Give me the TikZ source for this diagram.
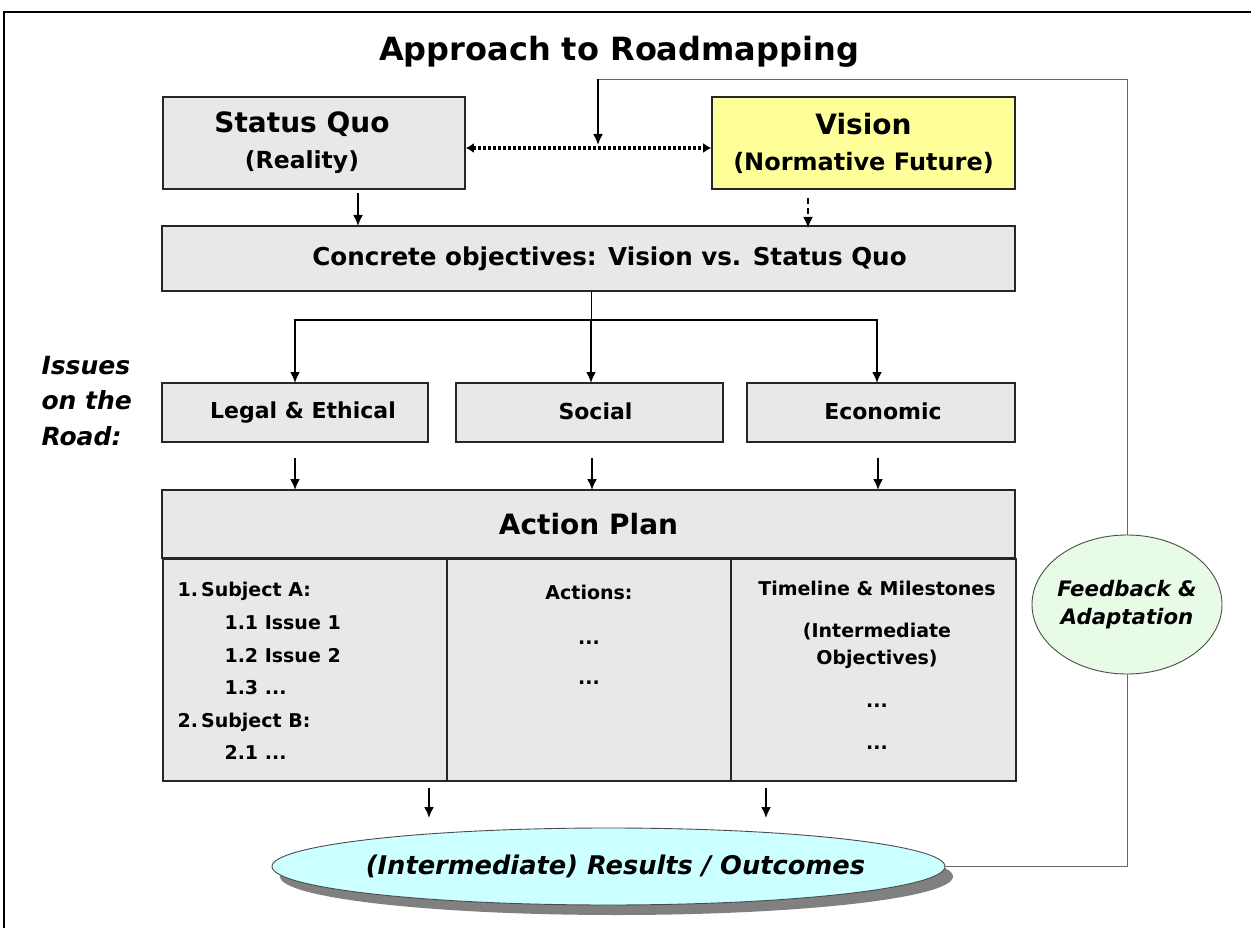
\documentclass[tikz,border=0pt]{standalone}
\usepackage{fontspec}
\setmainfont{DejaVu Sans}
\usetikzlibrary{arrows.meta,shapes.geometric,shadows}
\definecolor{boxgray}{HTML}{E8E8E8}
\definecolor{visyellow}{HTML}{FFFF99}
\definecolor{rescyan}{HTML}{CCFFFF}
\definecolor{fbgreen}{HTML}{E8FBE6}

\begin{document}
\begin{tikzpicture}[x=1pt, y=-1pt,
    box/.style={draw=black!85, fill=boxgray, line width=1.6pt, inner sep=0pt},
    arr/.style={-{Latex[length=11pt,width=10pt]}, line width=2pt},
    fbline/.style={draw=black!60, line width=0.9pt},
    oval/.style={ellipse, draw=black!70, line width=0.9pt, inner sep=0pt},
    big/.style={font=\bfseries\fontsize{28}{36}\selectfont},
    mid/.style={font=\bfseries\fontsize{22}{27}\selectfont},
    small/.style={font=\bfseries\fontsize{19}{32.6}\selectfont}]
	\useasboundingbox (0,0) rectangle (1251,928);
	\fill[white] (0,0) rectangle (1251,928);
	% frame
	\draw[line width=2pt] (4,928) -- (4,12) -- (1251,12);
	\node[font=\bfseries\fontsize{32}{38}\selectfont] (title) at (619,52) {Approach to Roadmapping};

	% status quo and vision
	\node[box, big, minimum width=302, minimum height=92, align=center] (sq) at (314,143)
		{\hspace*{-24pt}Status Quo\\ \fontsize{23.5}{36}\selectfont\hspace*{-24pt}(Reality)};
	\node[box, big, fill=visyellow, minimum width=303, minimum height=92, align=center] (vis) at (863.5,143)
		{Vision\\ \fontsize{24}{36}\selectfont(Normative Future)};
	\draw[{Latex[length=8pt,width=10pt]}-{Latex[length=8pt,width=10pt]}, line width=4pt, dash pattern=on 3pt off 2pt] (sq.east |- 0,148) -- (vis.west |- 0,148);

	% objectives
	\node[box, minimum width=853, minimum height=65, font=\bfseries\fontsize{24.6}{30}\selectfont] (obj) at (588.5,258.5) {\hspace*{42pt}\raisebox{-3pt}{Concrete objectives: Vision vs. Status Quo}};
	\draw[arr] (358,193) -- (358,226);
	\draw[arr, dash pattern=on 6pt off 4pt] (808,198) -- (808,228);

	% issues on the road
	\node[font=\bfseries\itshape\fontsize{25}{35.5}\selectfont, align=left, anchor=west] (road) at (38,401) {Issues\\on the\\Road:};
	\node[box, minimum width=266, minimum height=59, mid] (legal) at (295,412.5) {\hspace*{16pt}\raisebox{3pt}{Legal \& Ethical}};
	\node[box, minimum width=267, minimum height=59, mid] (social) at (589.5,412.5) {\hspace*{12pt}\raisebox{3pt}{Social}};
	\node[box, minimum width=268, minimum height=59, mid] (econ) at (881,412.5) {\hspace*{4pt}\raisebox{3pt}{Economic}};
	\coordinate (split) at (591,320);
	\draw[line width=0.9pt] (obj.south -| split) -- (split);
	\draw[arr] (split) -- (591,383);
	\draw[arr] (295,320) -- (877,320) -- (877,383);
	\draw[arr] (295,319) -- (295,383);
	\foreach \x in {295,592,878}
		\draw[arr] (\x,458) -- (\x,490);

	% action plan
	\node[box, minimum width=853, minimum height=68, big] (plan) at (588.5,524) {\raisebox{-3pt}{Action Plan}};
	\node[box, minimum width=284, minimum height=222, anchor=north west] (col1) at (162,558) {};
	\node[box, minimum width=284, minimum height=222, anchor=north west] (col2) at (446,558) {};
	\node[box, minimum width=285, minimum height=222, anchor=north west] (col3) at (730,558) {};
	\node[small, align=left, anchor=north west] (subj) at (174,579)
		{1.\,Subject A:\\
		\hspace*{47pt}1.1 Issue 1\\
		\hspace*{47pt}1.2 Issue 2\\
		\hspace*{47pt}1.3 ...\\
		2.\,Subject B:\\
		\hspace*{47pt}2.1 ...};
	\node[small, align=center, anchor=north] (acts) at (589,582)
		{Actions:\\[12.4pt]...\\[7.4pt]...};
	\node[small, align=center, anchor=north] (time) at (877,578)
		{Timeline \& Milestones\\[9.4pt]
		(Intermediate\\[-5.6pt]Objectives)\\[10.4pt]
		...\\[9.4pt]...};
	\draw[arr] (429,788) -- (429,818);
	\draw[arr] (766,788) -- (766,818);

	% results and feedback
	\node[oval, fill=rescyan, minimum width=673, minimum height=77,
		drop shadow={shadow xshift=8pt, shadow yshift=-10pt, fill=black!50, opacity=1},
		font=\bfseries\itshape\fontsize{25.7}{32}\selectfont] (res) at (608.5,866.5)
		{\makebox[0pt]{\hspace*{14pt}\raisebox{-2pt}{(Intermediate) Results / Outcomes}}};
	\node[oval, fill=fbgreen, minimum width=190, minimum height=139] (fb) at (1127,604.5) {};
	\node[align=center, font=\bfseries\itshape\fontsize{21.3}{28}\selectfont] (fbtext) at (fb.center) {Feedback \&\\Adaptation};
	\coordinate (fbtop) at (598,79);
	\coordinate (fbtip) at (598,145);
	\draw[fbline] (res.east) -| (fb.south);
	\draw[fbline] (fb.north) |- (fbtop);
	\draw[arr] (fbtop) -- (fbtip);
\end{tikzpicture}
\end{document}
